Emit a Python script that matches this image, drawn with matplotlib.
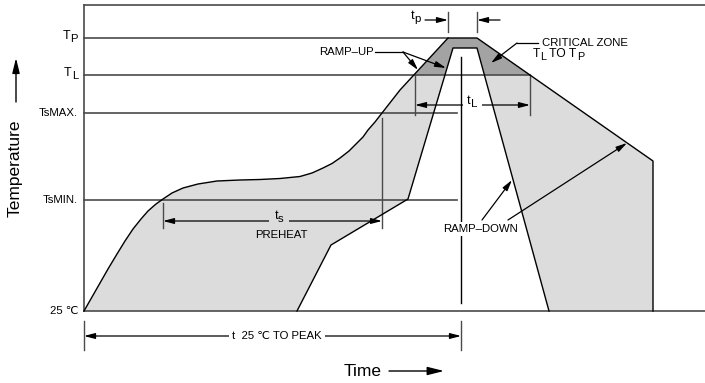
import matplotlib
matplotlib.use("Agg")
import matplotlib.pyplot as plt
from matplotlib.patches import Polygon, Rectangle

plt.rcParams["font.family"] = ["Liberation Sans", "DejaVu Sans"]

# Temperature levels (schematic units above 25 °C) and where each guide line stops
level_labels = [("T", "P"), ("T", "L"), ("TsMAX.", ""), ("TsMIN.", ""), ("25 ℃", "")]
level_values = [273, 236, 198, 111, 0]
level_ends = [364, 446, 373, 373, 621]

# Fast (hot) edge of the reflow window: time vs temperature
upper_time = [0, 8, 16, 24, 33, 41, 49, 57, 64, 72, 79, 88, 99, 114, 133, 156, 176,
              196, 216, 228, 239, 248, 256, 265, 273, 279, 284, 291, 298, 316, 364,
              393, 569, 569]
upper_temp = [0, 14, 28, 42, 57, 70, 82, 92, 100, 107, 112, 118, 123, 127, 130, 131,
              131.5, 132.5, 134.5, 138, 143, 147.5, 153, 160, 168, 174, 181, 189, 198,
              221, 273, 273, 150, 0]
# Slow (cold) edge, traced back from the cooling end to the start
lower_time = [465, 393, 369, 324, 247, 213]
lower_temp = [0, 263, 263, 112, 66, 0]

# Time spans marked on the chart
ts_span = (79, 298)        # preheat
tl_span = (331, 446)       # above liquidus
tp_span = (364, 393)       # at peak
peak_time = 377            # 25 °C to peak

LINE = "#4a4a4a"
LIGHT = "#dcdcdc"
DARK = "#a3a3a3"
FS = 8.2

fig = plt.figure(figsize=(7.05, 3.83), dpi=100)
ax = fig.add_axes([0, 0, 1, 1])
ax.set_xlim(-84, 621)
ax.set_ylim(-72, 311)
ax.axis("off")
renderer = fig.canvas.get_renderer()


def text_width(s, size):
    t = ax.text(0, 0, s, fontsize=size)
    w = t.get_window_extent(renderer).width * 72.0 / fig.dpi
    t.remove()
    return w


def rich(x, y, parts, size, ha="left", sub_scale=0.9, drop=2.3, bg=None, zorder=6):
    """Text with subscripts; parts is a list of (string, is_subscript); y is the baseline."""
    sizes = [size * sub_scale if sub else size for _, sub in parts]
    widths = [text_width(s, sz) for (s, _), sz in zip(parts, sizes)]
    total = sum(widths)
    start = {"left": 0.0, "center": -total / 2.0, "right": -total}[ha]
    cur = start
    for (s, sub), sz, w in zip(parts, sizes, widths):
        kw = {}
        if bg is not None:
            kw["bbox"] = dict(facecolor=bg, edgecolor="none", pad=1.0)
        ax.annotate(s, xy=(x, y), xytext=(cur, -drop if sub else 0.0),
                    textcoords="offset points", ha="left", va="baseline",
                    fontsize=sz, zorder=zorder, **kw)
        cur += w


TP, TL, TSMAX, TSMIN, T25 = level_values

# Profile band
band = list(zip(upper_time, upper_temp)) + list(zip(lower_time, lower_temp))
ax.add_patch(Polygon(band, closed=True, facecolor=LIGHT, edgecolor="none", zorder=1))
crit = Polygon(band, closed=True, facecolor=DARK, edgecolor="none", zorder=1.5)
ax.add_patch(crit)
crit.set_clip_path(Rectangle((-84, TL), 705, 100, transform=ax.transData))
ax.plot(upper_time, upper_temp, color="black", lw=1.0, zorder=4)
ax.plot(lower_time, lower_temp, color="black", lw=1.0, zorder=4)

# Frame and level guide lines
ax.plot([0, 621], [306, 306], color=LINE, lw=1.2, zorder=3)
ax.plot([0, 0], [0, 306], color=LINE, lw=1.2, zorder=3)
for (main, sub), val, end in zip(level_labels, level_values, level_ends):
    ax.plot([0, end], [val, val], color=LINE, lw=1.2, zorder=3)
    if sub:
        rich(-6, val - 1, [(main, False), (sub, True)], FS + 0.8, ha="right")
    else:
        ax.text(-6, val, main, ha="right", va="center", fontsize=FS)

# Axis captions with arrows
ax.text(-69, 143, "Temperature", rotation=90, ha="center", va="center", fontsize=12.5)
ax.annotate("", xy=(-68, 253), xytext=(-68, 209),
            arrowprops=dict(arrowstyle="-|>,head_length=0.9,head_width=0.22",
                            color="black", lw=1.0, shrinkA=0, shrinkB=0))
ax.text(260, -60, "Time", ha="left", va="center", fontsize=12.5)
ax.annotate("", xy=(360, -60), xytext=(305, -60),
            arrowprops=dict(arrowstyle="-|>,head_length=1.0,head_width=0.25",
                            color="black", lw=1.0, shrinkA=0, shrinkB=0))

arrow = dict(arrowstyle="-|>,head_length=0.65,head_width=0.17", color="black",
             lw=0.9, shrinkA=0, shrinkB=0)
dim = dict(arrowstyle="<|-|>,head_length=0.65,head_width=0.17", color="black",
           lw=0.9, shrinkA=0, shrinkB=0)
white = dict(facecolor="white", edgecolor="none", pad=1.2)

# Peak marker line
ax.plot([peak_time, peak_time], [254, 8], color="black", lw=1.0, zorder=3)

# t 25 °C to peak
for x in (0, peak_time):
    ax.plot([x, x], [-10, -39], color=LINE, lw=1.0)
ax.annotate("", xy=(0, -25), xytext=(peak_time, -25), arrowprops=dim)
ax.text(193, -25, "t  25 ℃ TO PEAK", ha="center", va="center", fontsize=FS,
        bbox=dict(facecolor="white", edgecolor="none", pad=2.5))

# t_s preheat
ax.plot([ts_span[0]] * 2, [108, 83], color=LINE, lw=1.0, zorder=3)
ax.plot([ts_span[1]] * 2, [193, 83], color=LINE, lw=1.0, zorder=3)
ax.annotate("", xy=(ts_span[0], 90), xytext=(ts_span[1], 90), arrowprops=dim, zorder=5)
ax.add_patch(Rectangle((185, 84), 20, 13, facecolor=LIGHT, edgecolor="none", zorder=5.5))
rich(195, 92, [("t", False), ("s", True)], FS + 1, ha="center")
ax.text(197, 76, "PREHEAT", ha="center", va="center", fontsize=FS, zorder=6)

# t_L
for x in tl_span:
    ax.plot([x, x], [236, 196], color=LINE, lw=1.0, zorder=3)
ax.annotate("", xy=(tl_span[0], 206), xytext=(tl_span[1], 206), arrowprops=dim, zorder=5)
ax.add_patch(Rectangle((379, 199), 19, 15, facecolor="white", edgecolor="none", zorder=5.5))
rich(388, 207, [("t", False), ("L", True)], FS + 1, ha="center")

# t_p
for x in tp_span:
    ax.plot([x, x], [299, 279], color=LINE, lw=1.0)
ax.annotate("", xy=(tp_span[0], 291), xytext=(341, 291), arrowprops=arrow)
ax.annotate("", xy=(tp_span[1], 291), xytext=(416, 291), arrowprops=arrow)
rich(332, 292, [("t", False), ("p", True)], FS + 1, ha="center")

# Ramp-up callout
ax.text(235, 259, "RAMP–UP", ha="left", va="center", fontsize=FS)
ax.plot([291, 319], [259, 259], color="black", lw=0.9)
ax.annotate("", xy=(334, 241), xytext=(319, 259), arrowprops=arrow, zorder=5)
ax.annotate("", xy=(362, 243), xytext=(319, 259), arrowprops=arrow, zorder=5)

# Critical zone callout
ax.text(458, 268, "CRITICAL ZONE", ha="left", va="center", fontsize=FS)
rich(449, 254, [("T", False), ("L", True), (" TO T", False), ("P", True)], FS + 0.5)
ax.plot([454, 433], [268, 268], color="black", lw=0.9)
ax.annotate("", xy=(407, 248), xytext=(433, 268), arrowprops=arrow, zorder=5)

# Ramp-down callout
ax.text(397, 82, "RAMP–DOWN", ha="center", va="center", fontsize=FS, bbox=white, zorder=6)
ax.annotate("", xy=(428, 131), xytext=(398, 91), arrowprops=arrow, zorder=5)
ax.annotate("", xy=(543, 168), xytext=(424, 91), arrowprops=arrow, zorder=5)

fig.savefig("out.png", dpi=100)
